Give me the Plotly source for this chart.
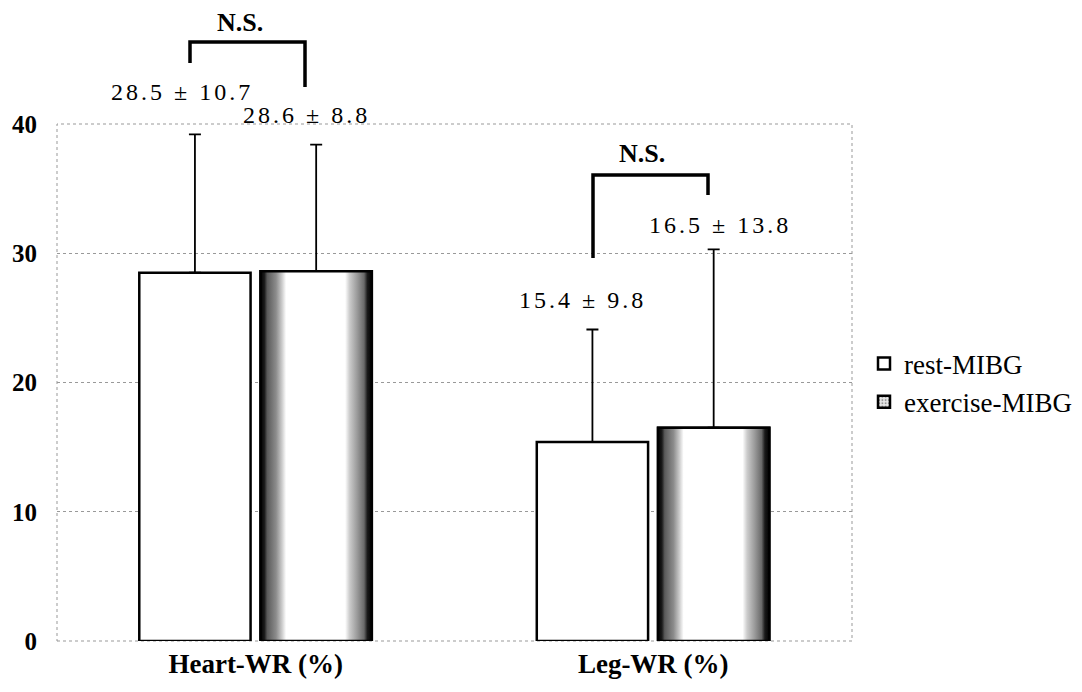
import plotly.graph_objects as go

categories = ["Heart-WR (%)", "Leg-WR (%)"]
series_names = ["rest-MIBG", "exercise-MIBG"]
rest_values = [28.5, 15.4]
exercise_values = [28.6, 16.5]
rest_err = [10.7, 8.7]
exercise_err = [9.8, 13.8]
rest_labels = ["28.5 ± 10.7", "15.4 ± 9.8"]
exercise_labels = ["28.6 ± 8.8", "16.5 ± 13.8"]
y_ticks = [0, 10, 20, 30, 40]

SERIF = "Liberation Serif"
BAR_W = 0.28
REST_OFF = -0.293
EX_OFF = 0.012
xpos = list(range(len(categories)))

# the page body has an 8px margin on every side; size the figure so no scrollbars appear
OFF = 8
WIN_W, WIN_H = 1082, 692
FW, FH = WIN_W - 2 * OFF, WIN_H - 2 * OFF
L, R, T, B = 57, 852, 124, 641  # target plot area in window pixels


def px(xp):
    return (xp - L) / (R - L)


def py(yp):
    return (B - yp) / (B - T)


def cx(xp):
    return (xp - OFF) / FW


def cy(yp):
    return 1 - (yp - OFF) / FH


def spaced(s):
    return f'<span style="letter-spacing:3px">{s}</span>'


fig = go.Figure()
fig.add_trace(go.Bar(
    name=series_names[0], x=xpos, y=rest_values, width=BAR_W, offset=REST_OFF,
    marker=dict(color="white", line=dict(color="black", width=2.5)),
    error_y=dict(type="data", symmetric=False, array=rest_err, arrayminus=[0] * len(rest_err),
                 color="black", thickness=1.8, width=6),
))
fig.add_trace(go.Bar(
    name=series_names[1], x=xpos, y=exercise_values, width=BAR_W, offset=EX_OFF,
    marker=dict(color="#e6e6e6", line=dict(color="black", width=2.5),
                pattern=dict(shape=".", fgcolor="#444", size=4, solidity=0.3)),
    error_y=dict(type="data", symmetric=False, array=exercise_err, arrayminus=[0] * len(exercise_err),
                 color="black", thickness=1.8, width=6),
))

# gradient shading of exercise bars (cylinder-like look), built from data values
grad = [[0, "#000000"], [0.035, "#1a1a1a"], [0.06, "#5a5a5a"], [0.14, "#8c8c8c"], [0.19, "#c8c8c8"],
        [0.23, "#ffffff"], [0.76, "#ffffff"], [0.8, "#cccccc"], [0.87, "#999999"], [0.93, "#6a6a6a"],
        [0.96, "#1a1a1a"], [1, "#000000"]]
for xi, v in zip(xpos, exercise_values):
    x0 = xi + EX_OFF
    x1 = x0 + BAR_W
    fig.add_trace(go.Scatter(
        x=[x0, x0, x1, x1, x0], y=[0, v, v, 0, 0], mode="lines", fill="toself",
        fillgradient=dict(type="horizontal", colorscale=grad),
        line=dict(color="black", width=2.5), showlegend=False, hoverinfo="skip",
    ))

lab_pos = [(182, 92), (582, 300)]
ex_pos = [(306, 115), (720, 225)]
annotations = []
for txt, (ax_, ay_) in zip(rest_labels, lab_pos):
    annotations.append(dict(text=spaced(txt), x=px(ax_), y=py(ay_), xref="paper", yref="paper",
                            xanchor="center", yanchor="middle", showarrow=False,
                            font=dict(family=SERIF, size=24, color="black")))
for txt, (ax_, ay_) in zip(exercise_labels, ex_pos):
    annotations.append(dict(text=spaced(txt), x=px(ax_), y=py(ay_), xref="paper", yref="paper",
                            xanchor="center", yanchor="middle", showarrow=False,
                            font=dict(family=SERIF, size=24, color="black")))
for (ax_, ay_) in [(240, 23), (642, 153)]:
    annotations.append(dict(text="N.S.", x=px(ax_), y=py(ay_), xref="paper", yref="paper",
                            xanchor="center", yanchor="middle", showarrow=False,
                            font=dict(family=SERIF, size=26, color="black", weight="bold")))

shapes = [
    dict(type="rect", xref="paper", yref="paper", x0=0, x1=1, y0=0, y1=1,
         line=dict(color="#999999", width=1, dash="dot"), layer="below"),
    dict(type="path", xref="paper", yref="paper",
         path=f"M {px(190)} {py(63)} L {px(190)} {py(42)} L {px(305)} {py(42)} L {px(305)} {py(87)}",
         line=dict(color="black", width=3.5)),
    dict(type="path", xref="paper", yref="paper",
         path=f"M {px(593)} {py(258)} L {px(593)} {py(175)} L {px(708)} {py(175)} L {px(708)} {py(195)}",
         line=dict(color="black", width=3.5)),
]

fig.update_layout(
    width=FW, height=FH,
    margin=dict(l=L - OFF, r=OFF + FW - R, t=T - OFF, b=OFF + FH - B),
    paper_bgcolor="white", plot_bgcolor="white",
    barmode="overlay",
    showlegend=True,
    legend=dict(xref="container", yref="container", x=cx(864), y=cy(383),
                xanchor="left", yanchor="middle",
                font=dict(family=SERIF, size=27, color="black"),
                itemwidth=30, tracegroupgap=0, bgcolor="rgba(0,0,0,0)"),
    annotations=annotations,
    shapes=shapes,
    xaxis=dict(range=[-0.5, 1.5], tickvals=xpos, ticktext=categories,
               showgrid=False, zeroline=False, showline=False, ticks="",
               ticklabelstandoff=4, automargin=False,
               tickfont=dict(family=SERIF, size=27, color="black", weight="bold")),
    yaxis=dict(range=[0, 40], tickvals=y_ticks, showgrid=True, gridcolor="#999999", griddash="dot",
               gridwidth=1, zeroline=False, showline=False, ticks="",
               ticklabelstandoff=19, automargin=False,
               tickfont=dict(family=SERIF, size=25, color="black", weight="bold")),
)

fig.write_html("out.html")
